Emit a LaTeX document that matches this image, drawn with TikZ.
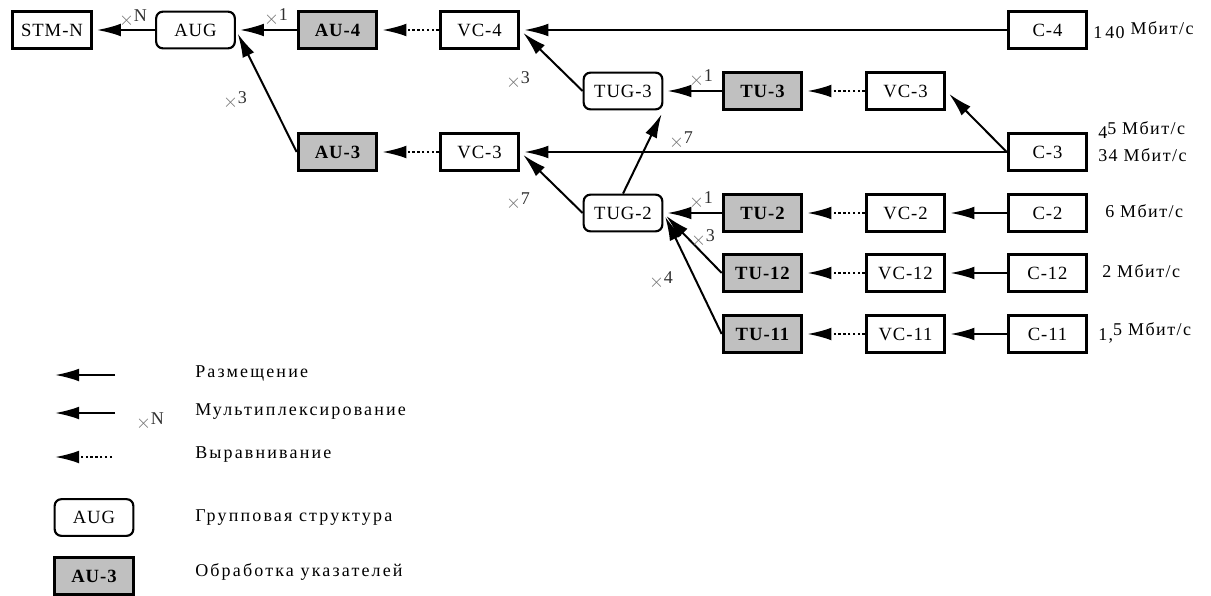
\documentclass[tikz,border=0pt]{standalone}
\usepackage{fontspec}
\setmainfont{Liberation Serif}
\newfontfamily\legendfont[LetterSpace=12]{Liberation Serif}
\newfontfamily\ratefont[LetterSpace=8]{Liberation Serif}
\newfontfamily\boxfont[LetterSpace=5]{Liberation Serif}
\usetikzlibrary{arrows.meta}
\definecolor{ptrgray}{HTML}{C0C0C0}
\definecolor{mulgray}{HTML}{707070}
\definecolor{numgray}{HTML}{303030}
\newcommand{\mult}[1]{{\color{mulgray}$\times$}\raisebox{3pt}{\color{numgray}#1}}
\begin{document}
\begin{tikzpicture}[x=0.75pt,y=-0.75pt,
  box/.style={draw, line width=2.2pt, fill=white, minimum width=59pt, minimum height=27.5pt,
    inner sep=0pt, font=\boxfont\fontsize{14}{15}\selectfont},
  grp/.style={box, rounded corners=5pt, line width=1.6pt},
  ptr/.style={box, fill=ptrgray, font=\boxfont\fontsize{14}{15}\selectfont\bfseries},
  conn/.style={line width=1.5pt, -{Latex[length=18pt,width=9.5pt]}, shorten >=3pt},
  alig/.style={conn, dash pattern=on 1.8pt off 1.8pt},
  mul/.style={inner sep=0pt, font=\fontsize{13.5}{14}\selectfont},
  rate/.style={anchor=west, inner sep=0pt, font=\ratefont\fontsize{13.5}{14}\selectfont},
  legtext/.style={anchor=west, inner sep=0pt, font=\legendfont\fontsize{13.5}{14}\selectfont},
]
\useasboundingbox (0,0) rectangle (1211,596);

% columns and rows of the multiplexing structure
\def\cA{52}   \def\cB{195.5} \def\cC{337.5} \def\cD{479.5}
\def\cE{623}  \def\cF{762.5} \def\cG{905.5} \def\cH{1047.5}
\def\rA{30}   \def\rB{91}    \def\rC{152}   \def\rD{213}
\def\rE{273}  \def\rF{334}

\node[box] (stm)  at (\cA,\rA) {STM-N};
\node[grp] (aug)  at (\cB,\rA) {AUG};
\node[ptr] (au4)  at (\cC,\rA) {AU-4};
\node[box] (vc4)  at (\cD,\rA) {VC-4};
\node[box] (cf)   at (\cH,\rA) {C-4};

\node[grp] (tug3) at (\cE,\rB) {TUG-3};
\node[ptr] (tu3)  at (\cF,\rB) {TU-3};
\node[box] (vc3r) at (\cG,\rB) {VC-3};

\node[ptr] (au3)  at (\cC,\rC) {AU-3};
\node[box] (vc3)  at (\cD,\rC) {VC-3};
\node[box] (ct)   at (\cH,\rC) {C-3};

\node[grp] (tug2) at (\cE,\rD) {TUG-2};
\node[ptr] (tu2)  at (\cF,\rD) {TU-2};
\node[box] (vc2)  at (\cG,\rD) {VC-2};
\node[box] (cw)   at (\cH,\rD) {C-2};

\node[ptr] (tu12) at (\cF,\rE) {TU-12};
\node[box] (vc12) at (\cG,\rE) {VC-12};
\node[box] (c12)  at (\cH,\rE) {C-12};

\node[ptr] (tu11) at (\cF,\rF) {TU-11};
\node[box] (vc11) at (\cG,\rF) {VC-11};
\node[box] (c11)  at (\cH,\rF) {C-11};

% mapping and multiplexing
\draw[conn] (aug.west) -- (stm.east);
\draw[conn] (au4.west) -- (aug.east);
\draw[conn] (au3.west) -- (aug.east);
\draw[conn] (cf.west) -- (vc4.east);
\draw[conn] (tug3.west) -- (vc4.east);
\draw[conn] (ct.west) -- (vc3.east);
\draw[conn] (tug2.west) -- (vc3.east);
\draw[conn] (tug2.north) -- (tug3.south east);
\draw[conn] (tu3.west) -- (tug3.east);
\draw[conn] (ct.west) -- (vc3r.east);
\draw[conn] (tu2.west) -- (tug2.east);
\draw[conn] (tu12.west) -- (tug2.east);
\draw[conn] (tu11.west) -- (tug2.east);
\draw[conn] (cw.west) -- (vc2.east);
\draw[conn] (c12.west) -- (vc12.east);
\draw[conn] (c11.west) -- (vc11.east);

% alignment
\draw[alig] (vc4.west) -- (au4.east);
\draw[alig] (vc3.west) -- (au3.east);
\draw[alig] (vc3r.west) -- (tu3.east);
\draw[alig] (vc2.west) -- (tu2.east);
\draw[alig] (vc12.west) -- (tu12.east);
\draw[alig] (vc11.west) -- (tu11.east);

% multiplexing factors
\node[mul] (mN)  at (133,18)  {\mult{N}};
\node[mul] (m1a) at (276,17)  {\mult{1}};
\node[mul] (m3a) at (235,100) {\mult{3}};
\node[mul] (m3b) at (518,80)  {\mult{3}};
\node[mul] (m1b) at (701,78)  {\mult{1}};
\node[mul] (m7a) at (681,140) {\mult{7}};
\node[mul] (m7b) at (518,201) {\mult{7}};
\node[mul] (m1c) at (701,200) {\mult{1}};
\node[mul] (m3c) at (703,238) {\mult{3}};
\node[mul] (m4)  at (661,280) {\mult{4}};

% bit rates
\node[rate] (r140) at (1093,30)  {\raisebox{-2.5pt}{1\,40} Мбит/с};
\node[rate] (r45)  at (1098,130) {\raisebox{-3pt}{4}5 Мбит/с};
\node[rate] (r34)  at (1098,155) {34 Мбит/с};
\node[rate] (r6)   at (1105,211) {6 Мбит/с};
\node[rate] (r2)   at (1102,271) {2 Мбит/с};
\node[rate] (r15)  at (1098,333) {\raisebox{-3.5pt}{1,}5 Мбит/с};

% legend
\coordinate (la1) at (55,375);  \coordinate (lb1) at (115,375);
\coordinate (la2) at (55,413);  \coordinate (lb2) at (115,413);
\coordinate (la3) at (55,457);  \coordinate (lb3) at (112,457);
\draw[conn, shorten >=0pt] (lb1) -- (la1);
\draw[conn, shorten >=0pt] (lb2) -- (la2);
\draw[alig, shorten >=0pt] (lb3) -- (la3);
\node[mul] (lmN) at (150,421) {\mult{N}};
\node[grp] (lgrp) at (94,517.5) {AUG};
\node[ptr] (lptr) at (94,576) {AU-3};
\node[legtext] (t1) at (195,373) {Размещение};
\node[legtext] (t2) at (195,412) {Мультиплексирование};
\node[legtext] (t3) at (195,455) {Выравнивание};
\node[legtext] (t4) at (195,518) {Групповая структура};
\node[legtext] (t5) at (195,572) {Обработка указателей};
\end{tikzpicture}
\end{document}
